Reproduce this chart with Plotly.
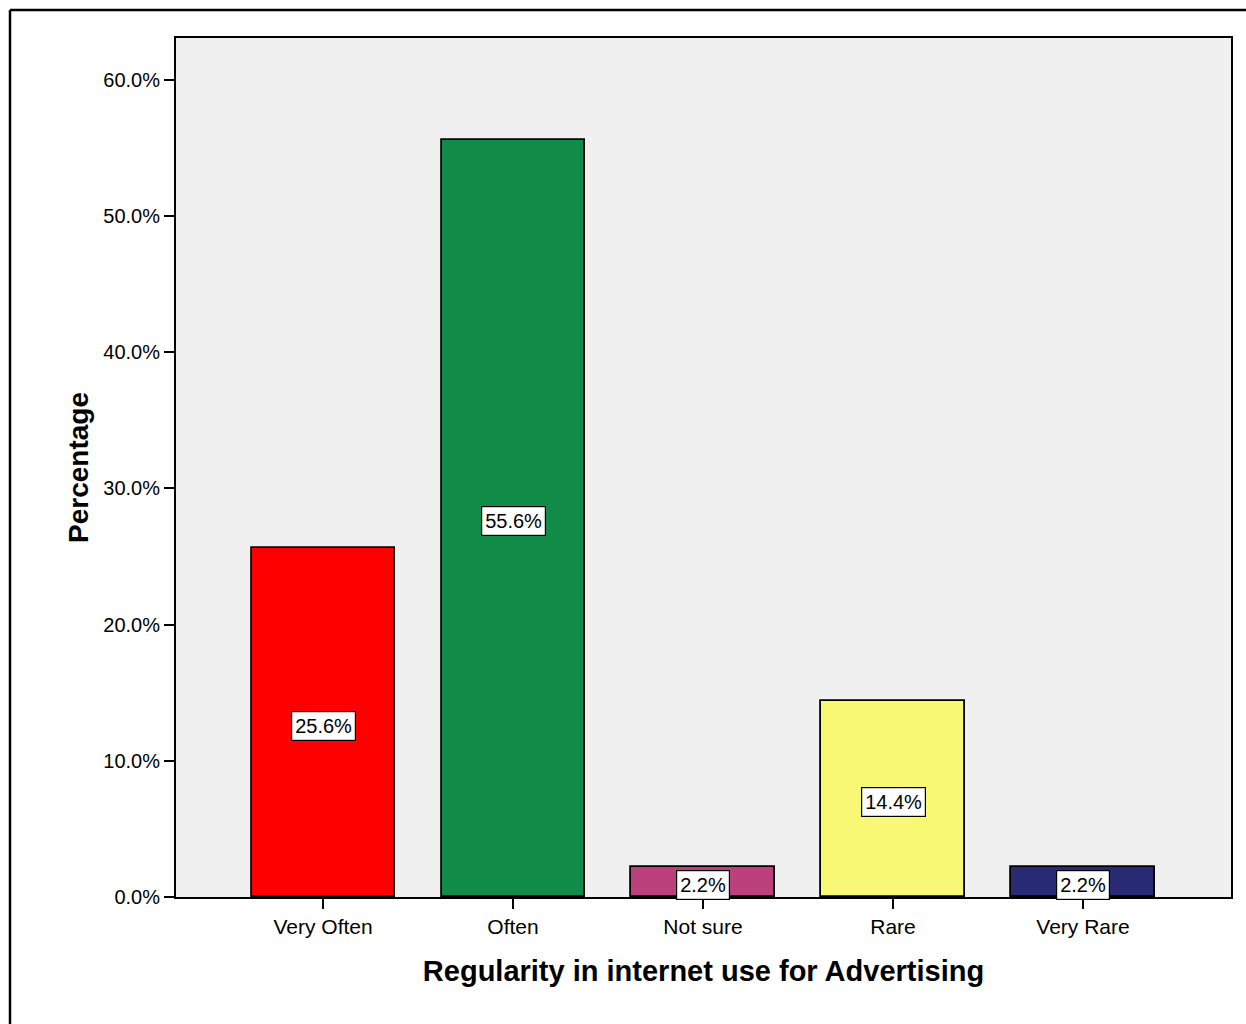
import plotly.graph_objects as go

# Survey responses: regularity of internet use for advertising
categories = ["Very Often", "Often", "Not sure", "Rare", "Very Rare"]
percentages = [25.6, 55.6, 2.2, 14.4, 2.2]
bar_colors = ["#ff0000", "#108c48", "#bc407c", "#f9f874", "#282b74"]
y_ticks = [0, 10, 20, 30, 40, 50, 60]
y_tick_labels = ["0.0%", "10.0%", "20.0%", "30.0%", "40.0%", "50.0%", "60.0%"]

FONT = "Liberation Sans, Arial, sans-serif"

fig = go.Figure()
fig.add_trace(go.Bar(
    x=list(range(len(categories))),
    y=percentages,
    width=0.753,
    marker=dict(color=bar_colors, line=dict(color="black", width=1.8)),
    hoverinfo="skip",
))

# Value labels in white boxes at the middle of each bar
for i, v in enumerate(percentages):
    fig.add_annotation(
        x=i, y=v / 2, xref="x", yref="y", yshift=-3,
        text=f"{v:.1f}%", showarrow=False,
        font=dict(family=FONT, size=20, color="black"),
        bgcolor="white", bordercolor="black", borderwidth=1.2, borderpad=3,
    )

# Outer frame lines (left and top edges of the chart panel)
W, H = 1246, 1024
ml, mr, mt, mb = 176, 15, 38, 127
pw, ph = W - ml - mr, H - mt - mb
def px_x(px):
    return (px - ml) / pw
def px_y(py):
    return (H - mb - py) / ph

fig.add_shape(type="line", xref="paper", yref="paper",
              x0=px_x(10), x1=px_x(10), y0=px_y(1030), y1=px_y(10),
              line=dict(color="black", width=2.5))
fig.add_shape(type="line", xref="paper", yref="paper",
              x0=px_x(10), x1=px_x(1260), y0=px_y(10), y1=px_y(10),
              line=dict(color="black", width=2.5))

fig.update_layout(
    width=W, height=H,
    margin=dict(l=ml, r=mr, t=mt, b=mb),
    paper_bgcolor="white",
    plot_bgcolor="#f0f0f0",
    showlegend=False,
    bargap=0,
    font=dict(family=FONT, size=20, color="black"),
    xaxis=dict(
        range=[-0.774, 4.779],
        tickmode="array",
        tickvals=list(range(len(categories))),
        ticktext=categories,
        ticks="outside", ticklen=10, tickwidth=2, tickcolor="black",
        showline=True, linecolor="black", linewidth=2, mirror=True,
        showgrid=False, zeroline=False,
        tickfont=dict(family=FONT, size=21, color="black"),
        title=dict(text="<b>Regularity in internet use for Advertising</b>",
                   font=dict(family=FONT, size=29, color="black"),
                   standoff=23),
    ),
    yaxis=dict(
        range=[0, 63.07],
        tickmode="array",
        tickvals=y_ticks,
        ticktext=y_tick_labels,
        ticks="outside", ticklen=10, tickwidth=2, tickcolor="black",
        showline=True, linecolor="black", linewidth=2, mirror=True,
        showgrid=False, zeroline=False,
        tickfont=dict(family=FONT, size=20, color="black"),
        title=dict(text="<b>Percentage</b>",
                   font=dict(family=FONT, size=28, color="black"),
                   standoff=6),
    ),
)

fig.write_html("out.html")
